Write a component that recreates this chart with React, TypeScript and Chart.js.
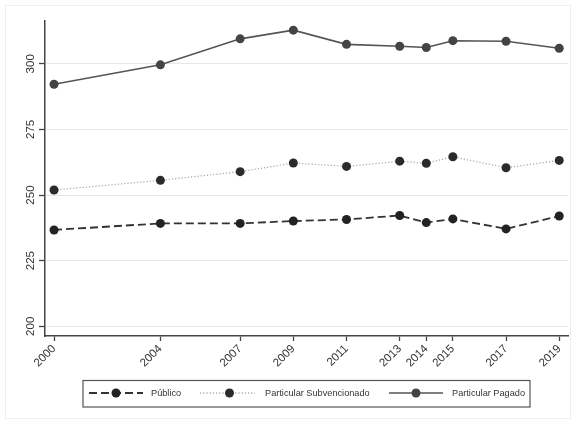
import React, { useEffect, useRef } from "react";
import { Chart, registerables } from "chart.js";

Chart.register(...registerables);

const years = [2000, 2004, 2007, 2009, 2011, 2013, 2014, 2015, 2017, 2019];
const publico = [236.7, 239.2, 239.2, 240.1, 240.7, 242.2, 239.5, 240.9, 237.1, 242.0];
const subvencionado = [251.9, 255.6, 258.9, 262.2, 260.9, 262.9, 262.1, 264.6, 260.4, 263.2];
const pagado = [292.2, 299.6, 309.5, 312.8, 307.4, 306.7, 306.2, 308.8, 308.6, 305.9];
const yTicks = [200, 225, 250, 275, 300];
const xTicks = years;
const seriesLabels = ["Público", "Particular Subvencionado", "Particular Pagado"];

const FONT = '"Liberation Sans", Arial, Helvetica, sans-serif';

const legendLayout = [
  { x0: 89, x1: 143, cx: 116, tx: 151 },
  { x0: 200, x1: 255, cx: 229.5, tx: 265 },
  { x0: 389, x1: 443, cx: 416, tx: 452 },
];

const customDraw = {
  id: "customDraw",
  beforeDraw(chart: any) {
    const ctx = chart.ctx;
    ctx.save();
    ctx.fillStyle = "#ffffff";
    ctx.fillRect(0, 0, chart.width, chart.height);
    ctx.strokeStyle = "#efefef";
    ctx.lineWidth = 1;
    ctx.strokeRect(5.5, 5.5, 565, 413);
    ctx.restore();
  },
  afterDraw(chart: any) {
    const ctx = chart.ctx;
    const ys = chart.scales.y;
    ctx.save();
    ctx.fillStyle = "#333";
    ctx.font = `11.5px ${FONT}`;
    ctx.textAlign = "center";
    ctx.textBaseline = "middle";
    yTicks.forEach((v) => {
      const py = ys.getPixelForValue(v);
      ctx.save();
      ctx.translate(31, py);
      ctx.rotate(-Math.PI / 2);
      ctx.fillText(String(v), 0, 0);
      ctx.restore();
    });

    // legend box
    ctx.strokeStyle = "#555";
    ctx.lineWidth = 1.2;
    ctx.strokeRect(83, 380.5, 447, 26.5);
    const ly = 393;
    chart.data.datasets.forEach((ds: any, i: number) => {
      const L = legendLayout[i];
      ctx.save();
      ctx.strokeStyle = ds.borderColor;
      ctx.lineWidth = ds.borderWidth;
      ctx.setLineDash(ds.borderDash || []);
      ctx.beginPath();
      ctx.moveTo(L.x0, ly);
      ctx.lineTo(L.x1, ly);
      ctx.stroke();
      ctx.setLineDash([]);
      ctx.fillStyle = ds.pointBackgroundColor;
      ctx.beginPath();
      ctx.arc(L.cx, ly, 4.5, 0, Math.PI * 2);
      ctx.fill();
      ctx.restore();
      ctx.fillStyle = "#333";
      ctx.font = `9.2px ${FONT}`;
      ctx.textAlign = "left";
      ctx.textBaseline = "middle";
      ctx.fillText(ds.label, L.tx, ly);
    });
    ctx.restore();
  },
};

export default function App() {
  const ref = useRef<HTMLCanvasElement>(null);
  useEffect(() => {
    if (!ref.current) return;
    const mk = (vals: number[]) => years.map((y, i) => ({ x: y, y: vals[i] }));
    const chart = new Chart(ref.current, {
      type: "line",
      data: {
        datasets: [
          {
            label: seriesLabels[0],
            data: mk(publico),
            borderColor: "#333",
            borderWidth: 1.8,
            borderDash: [8, 4],
            pointBackgroundColor: "#222",
            pointBorderWidth: 0,
            pointRadius: 4.5,
            tension: 0,
          },
          {
            label: seriesLabels[1],
            data: mk(subvencionado),
            borderColor: "#aaa",
            borderWidth: 1.3,
            borderDash: [1.2, 2],
            pointBackgroundColor: "#2b2b2b",
            pointBorderWidth: 0,
            pointRadius: 4.5,
            tension: 0,
          },
          {
            label: seriesLabels[2],
            data: mk(pagado),
            borderColor: "#555",
            borderWidth: 1.6,
            pointBackgroundColor: "#444",
            pointBorderWidth: 0,
            pointRadius: 4.5,
            tension: 0,
          },
        ],
      },
      options: {
        animation: false,
        responsive: true,
        maintainAspectRatio: false,
        layout: { padding: { top: 21, right: 8, left: 0, bottom: 0 } },
        plugins: { legend: { display: false }, tooltip: { enabled: false } },
        scales: {
          x: {
            type: "linear",
            min: 1999.66,
            max: 2019.33,
            afterBuildTicks: (s: any) => {
              s.ticks = xTicks.map((v) => ({ value: v }));
            },
            afterFit: (s: any) => {
              s.height = 88;
            },
            ticks: {
              autoSkip: false,
              minRotation: 45,
              maxRotation: 45,
              padding: 1,
              color: "#333",
              font: { family: FONT, size: 11.5 },
              callback: (v: any) => String(v),
            },
            grid: { drawOnChartArea: false, drawTicks: true, tickLength: 5, tickColor: "#444", tickWidth: 1.3 },
            border: { color: "#444", width: 1.5 },
          },
          y: {
            type: "linear",
            min: 196.3,
            max: 316.3,
            afterBuildTicks: (s: any) => {
              s.ticks = yTicks.map((v) => ({ value: v }));
            },
            afterFit: (s: any) => {
              s.width = 45;
            },
            ticks: { display: false },
            grid: { color: "#e6e6e6", lineWidth: 1, drawTicks: true, tickLength: 6, tickColor: "#444", tickWidth: 1.3 },
            border: { color: "#444", width: 1.5 },
          },
        },
      },
      plugins: [customDraw],
    });
    return () => chart.destroy();
  }, []);
  return (
    <div style={{ position: "fixed", left: 0, top: 0, width: 576, height: 424, background: "#fff" }}>
      <canvas ref={ref} />
    </div>
  );
}
